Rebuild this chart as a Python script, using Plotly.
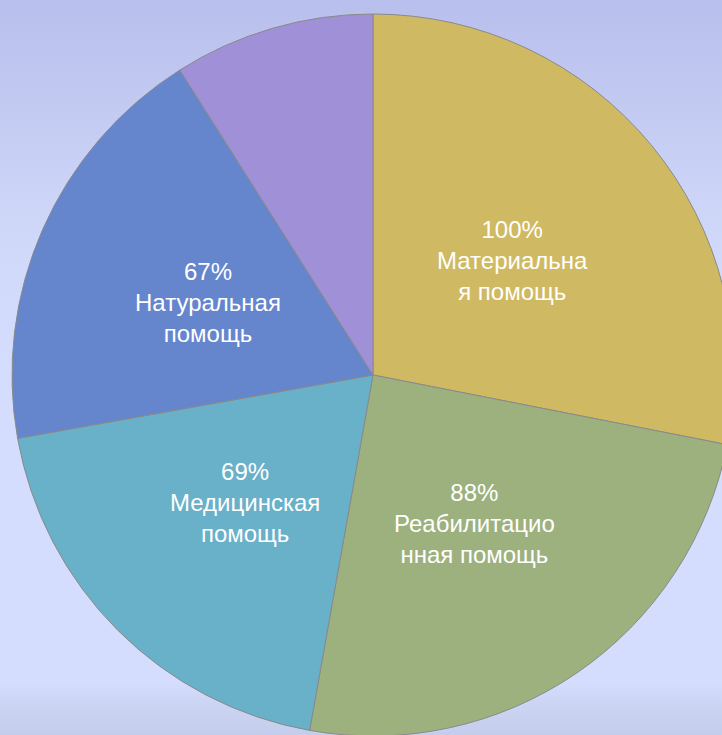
import base64
import math
import plotly.graph_objects as go

# Data
categories = ["Материальная помощь", "Реабилитационная помощь", "Медицинская помощь",
              "Натуральная помощь", "Прочее"]
values = [100, 88, 69, 67, 32]
label_texts = ["100%<br>Материальна<br>я помощь",
               "88%<br>Реабилитацио<br>нная помощь",
               "69%<br>Медицинская<br>помощь",
               "67%<br>Натуральная<br>помощь",
               ""]
colors = ["#cfb962", "#9db17f", "#69b0c9", "#6585cd", "#9f90d7"]

W, H = 746, 750
cx, cy, r = 373, 375, 361

svg = f'''<svg xmlns="http://www.w3.org/2000/svg" width="{W}" height="{H}" preserveAspectRatio="none">
<defs><linearGradient id="g" x1="0" y1="0" x2="0" y2="1">
<stop offset="0" stop-color="#b8bfec"/>
<stop offset="0.33" stop-color="#d1d9fa"/>
<stop offset="0.5" stop-color="#d4ddfd"/>
<stop offset="0.91" stop-color="#d4ddfd"/>
<stop offset="0.94" stop-color="#cbd4f3"/>
<stop offset="0.98" stop-color="#c4ceec"/>
<stop offset="1" stop-color="#c4ceec"/>
</linearGradient></defs>
<rect width="{W}" height="{H}" fill="url(#g)"/></svg>'''
bg_uri = "data:image/svg+xml;base64," + base64.b64encode(svg.encode()).decode()

fig = go.Figure(go.Pie(
    labels=categories,
    values=values,
    textinfo="none",
    marker=dict(colors=colors, line=dict(color="#8a8a8a", width=1)),
    sort=False,
    direction="clockwise",
    rotation=0,
    hoverinfo="none",
    showlegend=False,
    domain=dict(x=[(cx - r) / W, (cx + r) / W],
                y=[(H - cy - r) / H, (H - cy + r) / H]),
))

# Labels placed at half radius along each slice's bisector (derived from the values)
total = sum(values)
annotations = []
cum = 0.0
for v, t in zip(values, label_texts):
    mid = (cum + v / 2) / total * 2 * math.pi
    cum += v
    if not t:
        continue
    px = cx + 0.5 * r * math.sin(mid)
    py = cy - 0.5 * r * math.cos(mid)
    annotations.append(dict(
        x=px / W, y=(H - py) / H, xref="paper", yref="paper",
        text=t, showarrow=False, xanchor="center", yanchor="middle", align="center",
        font=dict(family="Arial, Liberation Sans, sans-serif", size=24, color="white"),
    ))

fig.update_layout(
    width=W, height=H,
    margin=dict(l=0, r=0, t=0, b=0),
    paper_bgcolor="#d4ddfd",
    annotations=annotations,
    images=[dict(source=bg_uri, xref="paper", yref="paper", x=0, y=1,
                 sizex=1, sizey=1, xanchor="left", yanchor="top",
                 sizing="stretch", layer="below")],
)

fig.write_html("out.html",
               post_script="document.body.style.margin='0';document.body.style.overflow='hidden';")
